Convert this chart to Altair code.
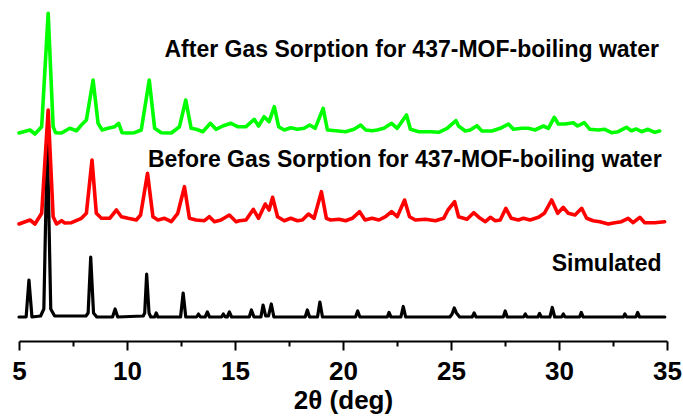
import altair as alt
import pandas as pd

# ---- data (2theta in deg, intensity in a.u. above each trace's own baseline)
sim_2theta = [5.0, 5.33, 5.46, 5.6, 6.0, 6.15, 6.31, 6.47, 6.65, 8.1, 8.2, 8.32, 8.45, 8.6,
              9.33, 9.45, 9.57, 10.75, 10.82, 10.91, 11.02, 11.1, 11.28, 11.35, 11.43,
              12.48, 12.6, 12.72, 13.22, 13.31, 13.4, 13.62, 13.72, 13.82, 14.38, 14.46, 14.55,
              14.64, 14.74, 14.84, 15.66, 15.76, 15.88, 16.2, 16.3, 16.42, 16.55, 16.68, 16.8,
              18.25, 18.35, 18.45, 18.82, 18.93, 19.05, 20.58, 20.68, 20.78, 22.05, 22.13, 22.22,
              22.68, 22.79, 22.9, 24.95, 25.05, 25.15, 25.25, 25.4, 25.98, 26.07, 26.16,
              27.42, 27.51, 27.6, 28.36, 28.44, 28.52, 29.02, 29.1, 29.18, 29.58, 29.69, 29.8,
              30.12, 30.2, 30.28, 30.95, 31.03, 31.12, 32.98, 33.05, 33.13, 33.56, 33.64, 33.73, 34.9]
sim_int = [0, 0, 37, 0, 1, 8, 180, 8, 1, 1, 4, 60, 4, 0,
           0, 8, 0, 1, 4, 43, 4, 0, 0, 4, 0,
           0, 24, 0, 0, 3, 0, 0, 5, 0, 0, 3, 0,
           0, 5, 0, 0, 7, 0, 0, 12, 1, 1, 13, 0,
           0, 7, 0, 0, 15, 0, 0, 6, 0, 0, 4.5, 0,
           0, 10.5, 0, 0, 3, 9, 4, 0, 0, 4, 0,
           0, 6, 0, 0, 3, 0, 0, 3.5, 0, 0, 9.5, 0,
           0, 3, 0, 0, 4.5, 0, 0, 3, 0, 0, 4.5, 0, 0]

before_2theta = [5.0, 5.51, 5.74, 6.05, 6.35, 6.58, 6.74, 6.97, 7.12, 7.43, 7.89, 8.12, 8.38, 8.58,
                 8.815, 9.2, 9.51, 9.74, 10.05, 10.43, 10.63, 10.95, 11.2, 11.43, 11.74, 12.05,
                 12.35, 12.66, 12.89, 13.2, 13.585, 13.815, 14.05, 14.35, 14.74, 15.05,
                 15.2, 15.51, 15.85, 16.09, 16.4, 16.58, 16.74, 16.97, 17.28, 17.58, 17.89, 18.12,
                 18.4, 18.66, 19.0, 19.23, 19.43, 19.82, 20.12, 20.43, 20.77, 21.02, 21.35, 21.66,
                 21.97, 22.25, 22.51, 22.85, 23.08, 23.35, 23.82, 24.28, 24.66, 24.86, 25.17,
                 25.35, 25.74, 26.05, 26.35, 26.59, 26.82, 27.05, 27.28, 27.54, 27.79, 28.12,
                 28.35, 28.66, 29.05, 29.32, 29.66, 29.94, 30.2, 30.43, 30.74, 31.05, 31.28,
                 31.58, 31.89, 32.28, 32.58, 32.89, 33.2, 33.43, 33.74, 33.97, 34.43, 34.89]
before_int = [-1, 3, -1, 9.7, 113, 6.3, -1, 2.3, 0, 0.3, 4.7, 9.7, 63, 9.7,
              4.7, 4.7, 13, 6.3, 4.7, 3, 8, 49.7, 6.3, 3, 4.7, 1.3,
              9.7, 36.3, 4.7, 3, 2.3, 6.3, 1.3, 3, 8, 1.3,
              2.3, 3, 13.7, 4.7, 19, 13, 25.7, 6.3, 2.3, 4.7, 2.3, 3,
              9, 4.7, 31.3, 4.7, 3, 3.7, 2.3, 4.7, 11.3, 3, 4.7, 3,
              6.3, 11.3, 6.3, 23, 6.3, 3, 3.7, 2.3, 4.7, 13, 21.3,
              6.3, 3.7, 10.3, 4.7, 1.3, 5.7, 2.3, 3, 14.7, 4.7, 3,
              4.7, 3, 5.7, 9.7, 23, 9.7, 15.7, 9.7, 8, 14.7, 4.7,
              2.3, 1.3, -1, 0.3, 1.3, 4.7, 0.3, 5.7, 0.3, 0.3, 1.3]

after_2theta = [5.0, 5.51, 5.74, 6.05, 6.35, 6.58, 6.69, 6.97, 7.35, 7.66, 7.89, 8.12, 8.43, 8.66,
                8.85, 9.12, 9.43, 9.615, 9.77, 10.05, 10.35, 10.66, 11.03, 11.28, 11.585, 12.05,
                12.43, 12.72, 12.97, 13.2, 13.51, 13.86, 14.12, 14.43, 14.815, 15.12,
                15.51, 15.89, 16.09, 16.35, 16.58, 16.82, 17.02, 17.28, 17.58, 17.89, 18.2, 18.46,
                18.71, 19.08, 19.28, 19.66, 20.12, 20.51, 20.82, 21.05, 21.35, 21.58, 21.89, 22.25,
                22.51, 22.94, 23.12, 23.51, 24.05, 24.43, 24.82, 25.23,
                25.35, 25.66, 25.89, 26.2, 26.43, 26.89, 27.28, 27.66, 27.89, 28.28, 28.58, 28.89,
                29.28, 29.51, 29.78, 29.97, 30.28, 30.66, 30.86, 31.17, 31.43, 31.82, 32.12, 32.43,
                32.74, 33.12, 33.35, 33.58, 33.82, 34.12, 34.43, 34.66]
after_int = [0, 3, -1, 6.3, 119.7, 6.3, 0.3, 0, 4.7, 2.3, 8, 13, 53, 9.7,
             3, 4.7, 6.3, 9.7, 0.3, 0, 0.3, 3, 53, 4.7, 0.3, 0,
             6.3, 33, 4.7, 3.7, 1.3, 9.7, 3.7, 7, 9.7, 6.3,
             6.3, 13.7, 7, 16.3, 11.3, 26.3, 6.3, 3, 5.3, 3.7, 4.7, 8,
             4.7, 24.7, 3, 2.3, 1.3, 3.7, 8, 3, 2.3, 3, 4.7, 9.7,
             4.7, 18, 3.7, 1.3, 1.3, 0.7, 4.7, 12.3,
             7, 2, 3, 7.3, 2, 2, 4.7, 9, 3.7, 4.7, 4.7, 3,
             7, 4.7, 15.7, 9, 9, 10.3, 7, 10.3, 3.7, 3, 3.7, 0.3,
             1.3, 5.7, 2.3, 4, 1.3, 3.7, 0.7, 2]

series_names = ["Simulated",
                "Before Gas Sorption for 437-MOF-boiling water",
                "After Gas Sorption for 437-MOF-boiling water"]
series_offsets = [0, 94, 184]
series_colors = ["#000000", "#ff0000", "#00ff00"]

label_text = series_names
label_x = [34.75, 34.75, 34.63]
label_y = [46, 150, 260]

x_ticks = [5, 7.5, 10, 12.5, 15, 17.5, 20, 22.5, 25, 27.5, 30, 32.5, 35]

# ---- build tables
rows = []
for name, off, xs, ys in zip(series_names, series_offsets,
                             [sim_2theta, before_2theta, after_2theta],
                             [sim_int, before_int, after_int]):
    for i, (x, y) in enumerate(zip(xs, ys)):
        rows.append({"series": name, "order": i, "x": x, "y": y + off})
df = pd.DataFrame(rows)
labels = pd.DataFrame({"text": label_text, "x": label_x, "y": label_y})

FONT = "Liberation Sans"

xscale = alt.Scale(domain=[5, 35], nice=False, zero=False)
yscale = alt.Scale(domain=[-24, 317], nice=False, zero=False)

xaxis = alt.Axis(
    values=x_ticks,
    labelExpr="datum.value % 5 === 0 ? datum.label : ''",
    tickSize={"condition": {"test": "datum.value % 5 === 0", "value": 9}, "value": 5},
    tickWidth=2, tickColor="black",
    domainWidth=2, domainColor="black",
    labelFont=FONT, labelFontSize=26, labelFontWeight="bold", labelColor="black",
    labelPadding=8, labelOverlap=False, labelFlush=False,
    title="2θ (deg)", titleFont=FONT, titleFontSize=26, titleFontWeight="bold",
    titleColor="black", titlePadding=3, grid=False,
)

layers = []
# draw order: black, green, red (red on top)
for idx in [0, 2, 1]:
    name = series_names[idx]
    layers.append(
        alt.Chart(df).transform_filter(alt.datum.series == name).mark_line(
            color=series_colors[idx], strokeWidth=3.2 if idx == 0 else 3.6,
            strokeJoin="round", strokeCap="round"
        ).encode(
            x=alt.X("x:Q", scale=xscale, axis=xaxis),
            y=alt.Y("y:Q", scale=yscale, axis=None),
            order="order:Q",
        )
    )

text = alt.Chart(labels).mark_text(
    align="right", baseline="alphabetic", font=FONT, fontSize=23,
    fontWeight="bold", color="black"
).encode(
    x=alt.X("x:Q", scale=xscale, axis=xaxis),
    y=alt.Y("y:Q", scale=yscale, axis=None),
    text="text:N",
)

chart = alt.layer(*layers, text).properties(
    width=648, height=341,
    autosize=alt.AutoSizeParams(type="none"),
    padding={"left": 19, "top": 0, "right": 16, "bottom": 77},
).configure_view(stroke=None)

chart.save("out.html", embed_options={"renderer": "svg", "actions": False})
